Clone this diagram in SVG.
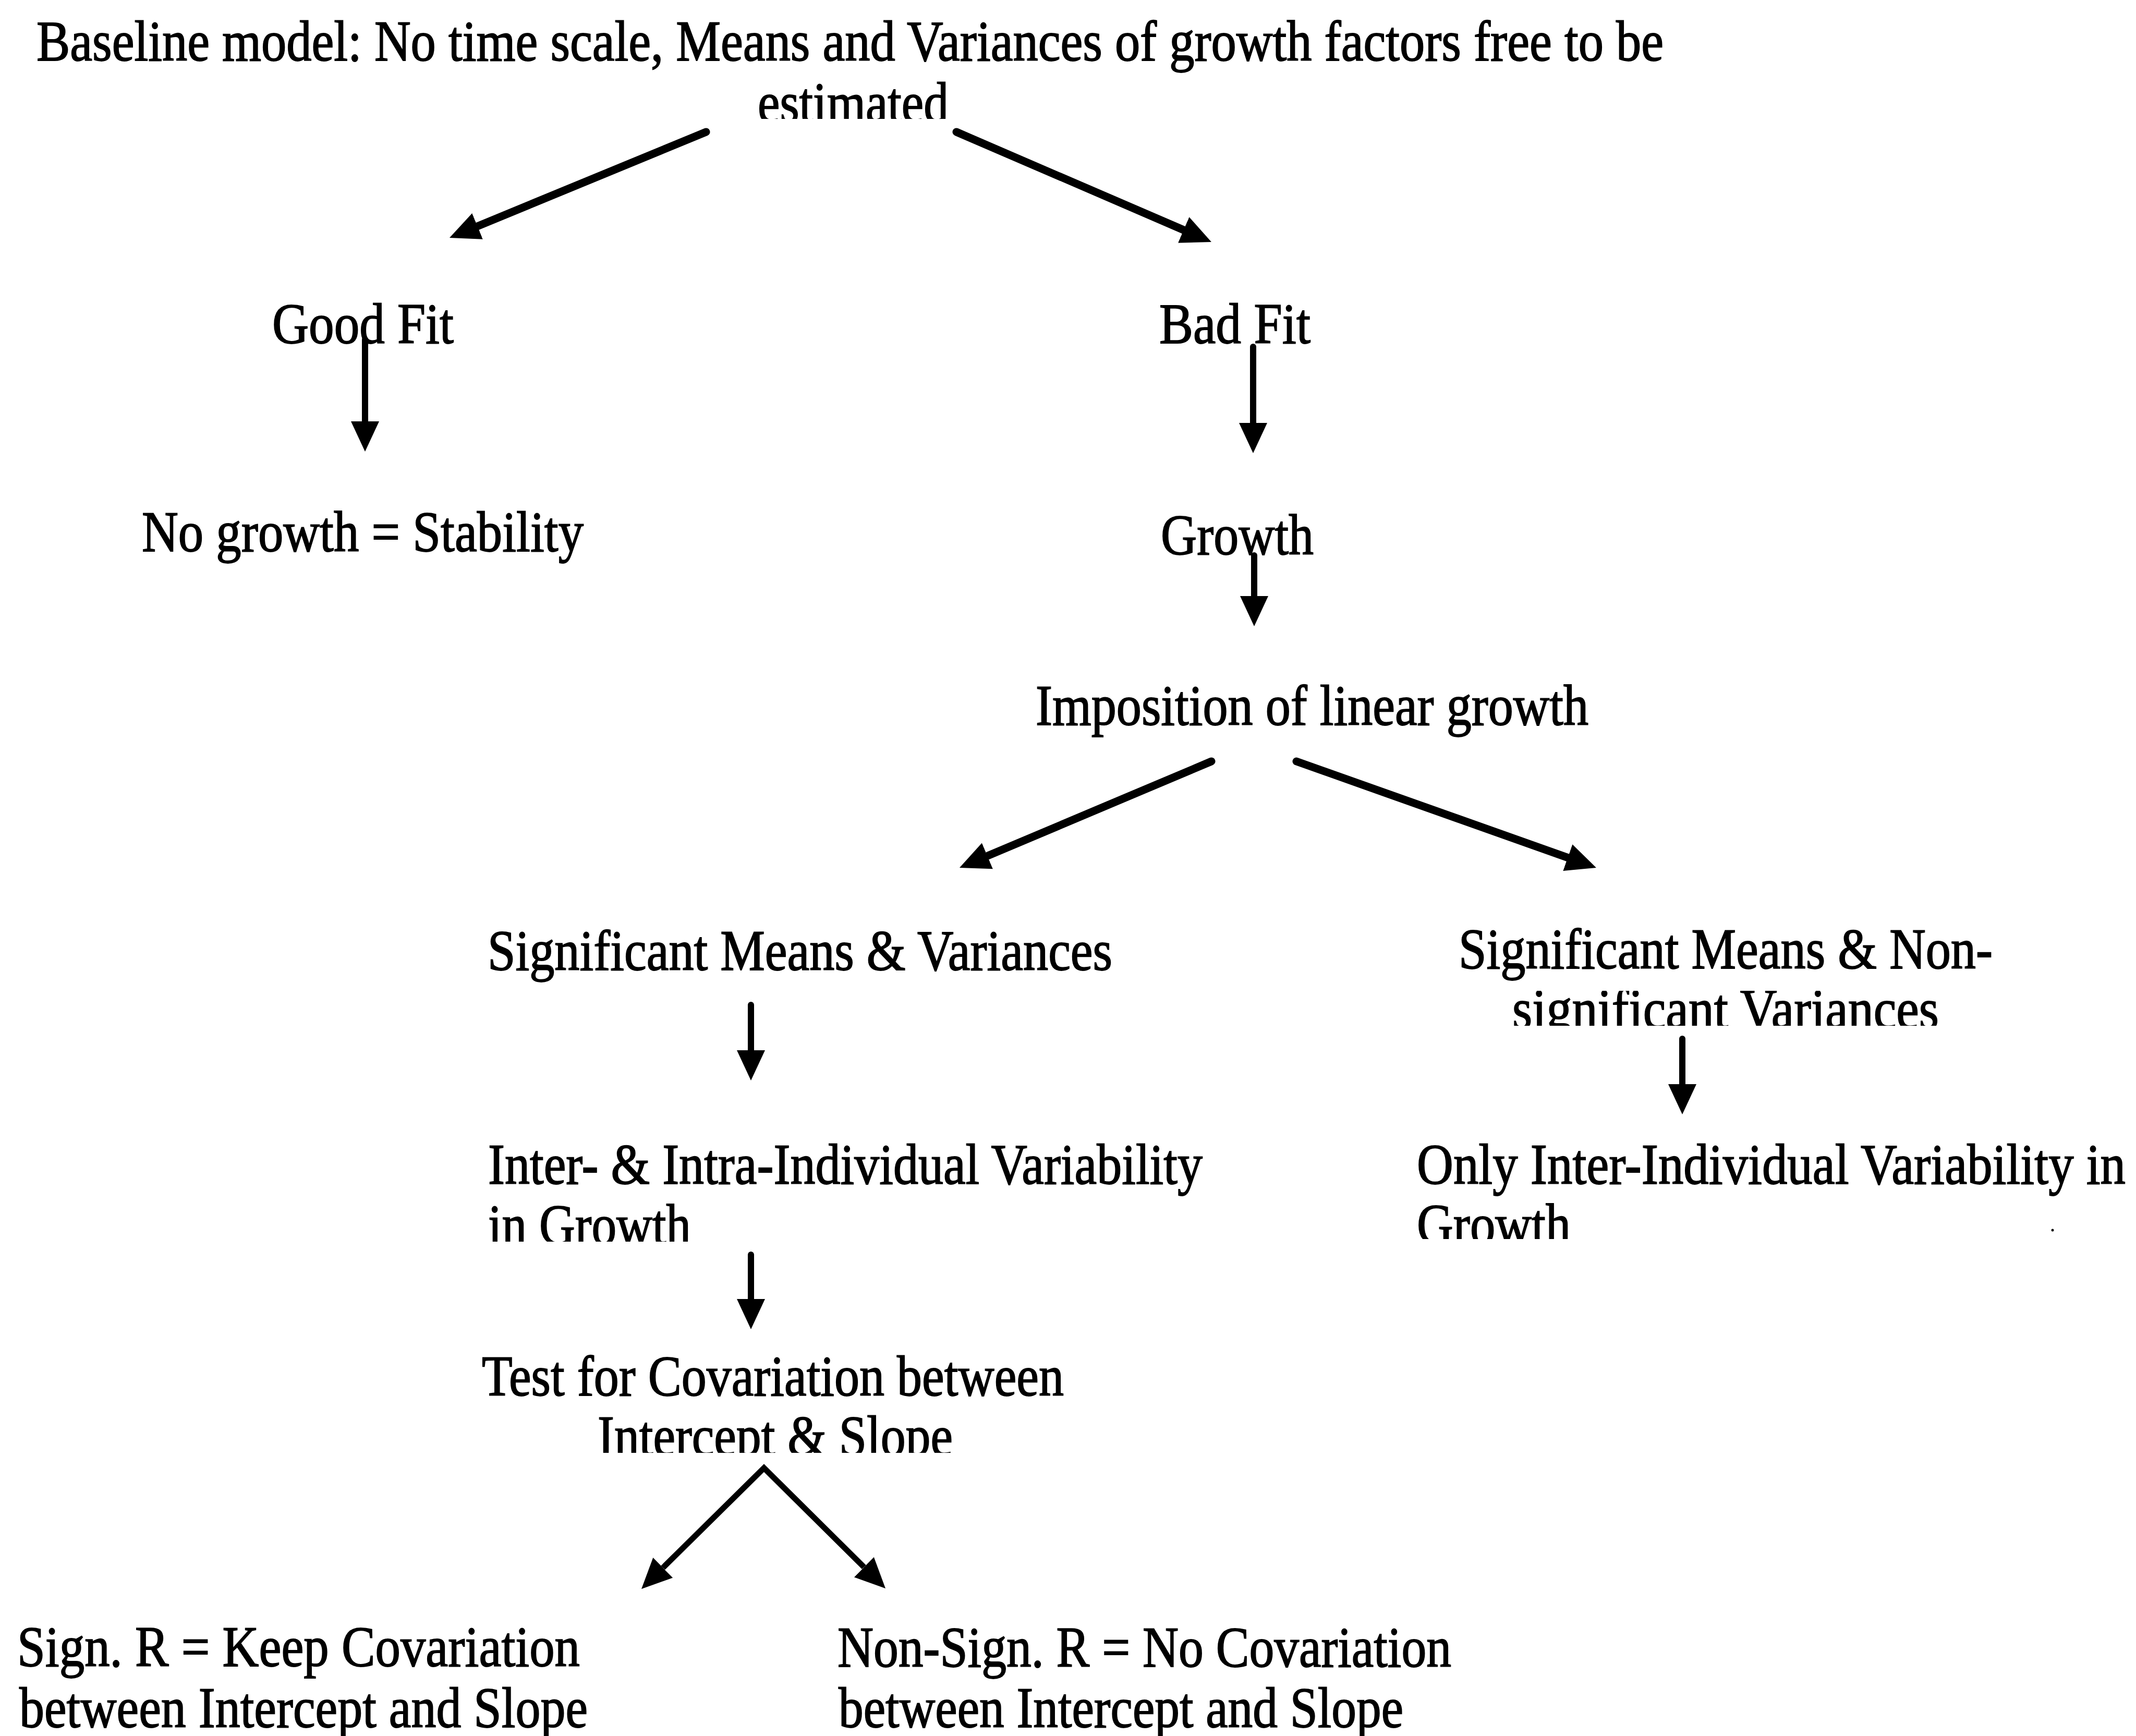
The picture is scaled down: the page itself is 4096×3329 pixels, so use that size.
<svg xmlns="http://www.w3.org/2000/svg" width="4096" height="3329" viewBox="0 0 4096 3329">
  <style>
    .t { font-family: "Liberation Serif", "Times New Roman", serif; font-size: 110px; fill: #000; stroke: #000; stroke-width: 1.8px; }
    .c { fill: none; stroke: #000; stroke-linecap: round; }
    .thick { stroke-width: 15; }
    .thin { stroke-width: 12; }
    .v { stroke-width: 11; stroke-linejoin: miter; stroke-linecap: butt; }
  </style>
  <defs>
    <!-- filled arrowhead, drawn from its base (x=0) to its tip (x=58) -->
    <marker id="head" markerUnits="userSpaceOnUse" viewBox="0 -28 58 56" refX="0" refY="0" markerWidth="58" markerHeight="56" orient="auto-start-reverse">
      <path d="M0,-27 L58,0 L0,27 Z" fill="#000"/>
    </marker>
    <!-- text boxes that cut off the last line of their text -->
    <clipPath id="clipEstimated"><rect x="0" y="0" width="4096" height="228"/></clipPath>
    <clipPath id="clipNonSig"><rect x="0" y="1900" width="4096" height="67"/></clipPath>
    <clipPath id="clipInGrowthL"><rect x="0" y="2300" width="2600" height="81"/></clipPath>
    <clipPath id="clipInGrowthR"><rect x="2600" y="2300" width="1496" height="76"/></clipPath>
    <clipPath id="clipIntercept"><rect x="0" y="2700" width="4096" height="86"/></clipPath>
  </defs>
  <rect width="4096" height="3329" fill="#fff"/>

  <g id="connectors">
    <!-- baseline model to fit outcomes -->
    <path class="c thick" d="M1354,253 L915.6,433.9" marker-end="url(#head)"/>
    <path class="c thick" d="M1834,253 L2269.7,441" marker-end="url(#head)"/>
    <!-- fit outcomes downward -->
    <path class="c thin" d="M700,651 L700,808" marker-end="url(#head)"/>
    <path class="c thin" d="M2403,665 L2403,811" marker-end="url(#head)"/>
    <path class="c thin" d="M2405,1065 L2405,1143" marker-end="url(#head)"/>
    <!-- linear growth split -->
    <path class="c thick" d="M2323,1460 L1893.4,1641.4" marker-end="url(#head)"/>
    <path class="c thick" d="M2486,1460 L3006.3,1644.6" marker-end="url(#head)"/>
    <!-- variance branches -->
    <path class="c thin" d="M1440,1927 L1440,2014" marker-end="url(#head)"/>
    <path class="c thin" d="M3226,1992 L3226,2079" marker-end="url(#head)"/>
    <path class="c thin" d="M1440,2406 L1440,2491" marker-end="url(#head)"/>
    <!-- covariation test split -->
    <path class="c v" d="M1271.3,3006.3 L1465,2815 L1656.8,3005.2" marker-start="url(#head)" marker-end="url(#head)"/>
  </g>

  <g id="baseline-model">
    <text class="t" x="70" y="116" textLength="3120" lengthAdjust="spacingAndGlyphs">Baseline model: No time scale, Means and Variances of growth factors free to be</text>
    <text class="t" x="1453" y="234" textLength="366" lengthAdjust="spacingAndGlyphs" clip-path="url(#clipEstimated)">estimated</text>
  </g>
  <g id="good-fit">
    <text class="t" x="522" y="658" textLength="348" lengthAdjust="spacingAndGlyphs">Good Fit</text>
  </g>
  <g id="bad-fit">
    <text class="t" x="2223" y="658" textLength="290" lengthAdjust="spacingAndGlyphs">Bad Fit</text>
  </g>
  <g id="no-growth">
    <text class="t" x="272" y="1057" textLength="847" lengthAdjust="spacingAndGlyphs">No growth = Stability</text>
  </g>
  <g id="growth">
    <text class="t" x="2226" y="1063" textLength="293" lengthAdjust="spacingAndGlyphs">Growth</text>
  </g>
  <g id="linear-growth">
    <text class="t" x="1986" y="1390" textLength="1060" lengthAdjust="spacingAndGlyphs">Imposition of linear growth</text>
  </g>
  <g id="sig-means-variances">
    <text class="t" x="935" y="1860" textLength="1198" lengthAdjust="spacingAndGlyphs">Significant Means &amp; Variances</text>
  </g>
  <g id="sig-means-nonsig-variances">
    <text class="t" x="2797" y="1857" textLength="1024" lengthAdjust="spacingAndGlyphs">Significant Means &amp; Non-</text>
    <text class="t" x="2900" y="1972" textLength="818" lengthAdjust="spacingAndGlyphs" clip-path="url(#clipNonSig)">significant Variances</text>
  </g>
  <g id="inter-intra-variability">
    <text class="t" x="936" y="2270" textLength="1370" lengthAdjust="spacingAndGlyphs">Inter- &amp; Intra-Individual Variability</text>
    <text class="t" x="936" y="2386" textLength="389" lengthAdjust="spacingAndGlyphs" clip-path="url(#clipInGrowthL)">in Growth</text>
  </g>
  <g id="inter-only-variability">
    <text class="t" x="2717" y="2270" textLength="1359" lengthAdjust="spacingAndGlyphs">Only Inter-Individual Variability in</text>
    <text class="t" x="2717" y="2385" textLength="295" lengthAdjust="spacingAndGlyphs" clip-path="url(#clipInGrowthR)">Growth</text>
    <circle cx="3936" cy="2359" r="2.5" fill="#000"/>
  </g>
  <g id="covariation-test">
    <text class="t" x="924" y="2676" textLength="1116" lengthAdjust="spacingAndGlyphs">Test for Covariation between</text>
    <text class="t" x="1146" y="2791" textLength="681" lengthAdjust="spacingAndGlyphs" clip-path="url(#clipIntercept)">Intercept &amp; Slope</text>
  </g>
  <g id="keep-covariation">
    <text class="t" x="33" y="3195" textLength="1079" lengthAdjust="spacingAndGlyphs">Sign. R = Keep Covariation</text>
    <text class="t" x="37" y="3312" textLength="1090" lengthAdjust="spacingAndGlyphs">between Intercept and Slope</text>
  </g>
  <g id="no-covariation">
    <text class="t" x="1606" y="3196" textLength="1177" lengthAdjust="spacingAndGlyphs">Non-Sign. R = No Covariation</text>
    <text class="t" x="1608" y="3312" textLength="1083" lengthAdjust="spacingAndGlyphs">between Intercept and Slope</text>
  </g>
</svg>
